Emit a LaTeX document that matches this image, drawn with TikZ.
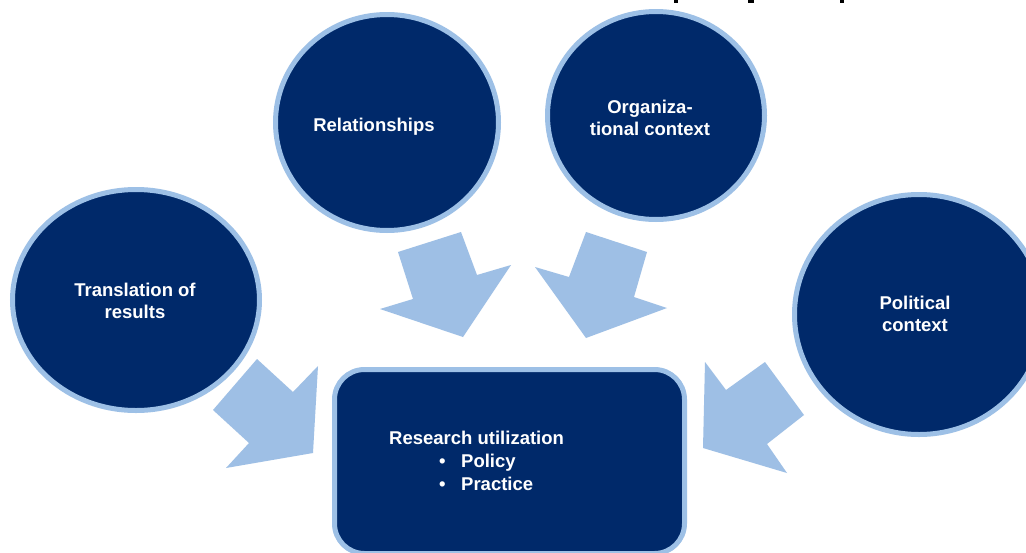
\documentclass[tikz,border=0pt]{standalone}
\usepackage{fontspec}
\setmainfont{Liberation Sans}
\usetikzlibrary{shapes.geometric}
\begin{document}
\begin{tikzpicture}[x=1pt,y=-1pt,
  navy/.style={fill={rgb,255:red,0;green,41;blue,106}},
  lightline/.style={draw={rgb,255:red,157;green,192;blue,230}, line width=5pt},
  factor/.style={ellipse, navy, lightline, inner sep=0pt},
  lbl/.style={text=white, font=\bfseries\fontsize{18.5}{22}\selectfont, align=center, inner sep=0pt},
  boxtxt/.style={text=white, font=\bfseries\fontsize{18.5}{22}\selectfont, inner sep=0pt, anchor=base west},
  blockarrow/.style={fill={rgb,255:red,158;green,191;blue,229}}
]
\useasboundingbox (0,0) rectangle (1026,552);
\clip (0,0) rectangle (1026,552);
\fill[white] (0,0) rectangle (1026,552);

% ends of the heading line above the figure
\fill[black] (674,0) rectangle (677.5,3);
\fill[black] (748,0) rectangle (754,2.5);
\fill[black] (840,0) rectangle (843.5,3);

% the four influencing factors
\node[factor, minimum width=247pt, minimum height=221pt] (trans) at (136,300) {};
\node[factor, minimum width=223pt, minimum height=216pt] (rel) at (387,122.5) {};
\node[factor, minimum width=217pt, minimum height=208pt] (org) at (656,115.5) {};
\node[factor, minimum width=249pt, minimum height=240pt] (pol) at (919,314.5) {};

\node[lbl] (transtxt) at (135,301) {Translation of\\results};
\node[lbl] (reltxt) at (374,127) {Relationships};
\node[lbl] (orgtxt) at (650,118) {Organiza-\\tional context};
\node[lbl] (poltxt) at (915,314) {Political\\context};

% central outcome box
\node[rounded corners=30pt, navy, lightline, minimum width=350pt, minimum height=184pt, inner sep=0pt] (ru) at (509.5,461.5) {};
\node[boxtxt] (rutitle) at (389,444.5) {Research utilization};
\node[boxtxt] (rupol) at (439,467.5) {\makebox[22pt][l]{\textbullet}Policy};
\node[boxtxt] (rupra) at (439,490.5) {\makebox[22pt][l]{\textbullet}Practice};

% block arrows pointing at the box
\fill[blockarrow] (398,252) -- (461,232) -- (477,275) -- (511,265) -- (463,337) -- (380,309) -- (413,299) -- cycle;
\fill[blockarrow] (586,232) -- (647,252) -- (634,297) -- (667,308) -- (586,338) -- (535,267) -- (569,277) -- cycle;
\fill[blockarrow] (257,359) -- (293,392) -- (318,366) -- (313,453) -- (226,468) -- (249,443) -- (213,410) -- cycle;
\fill[blockarrow] (705,362) -- (726,390) -- (765,362) -- (804,415) -- (767,444) -- (787,473) -- (703,448) -- cycle;
\end{tikzpicture}
\end{document}
